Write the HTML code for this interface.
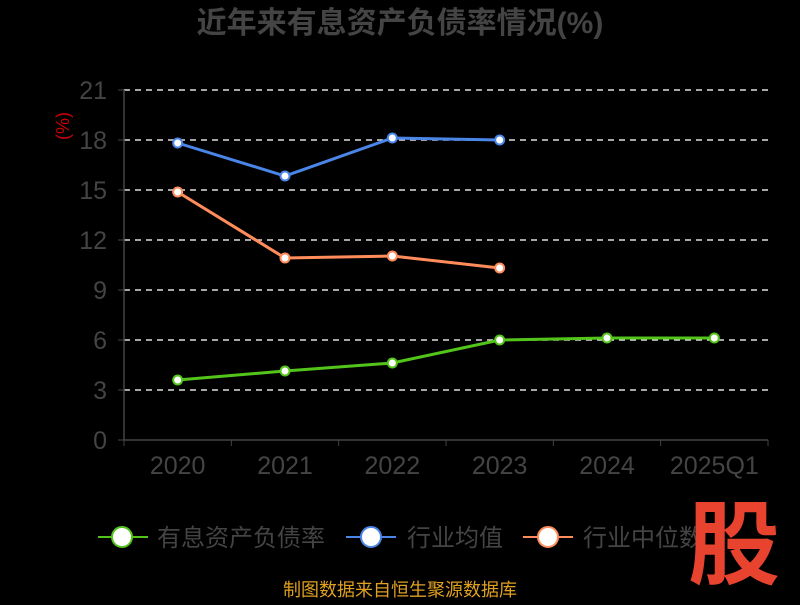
<!DOCTYPE html>
<html><head><meta charset="utf-8"><style>
body{margin:0;background:#000;width:800px;height:600px;overflow:hidden;font-family:"Liberation Sans","Noto Sans CJK SC",sans-serif}
</style></head><body>
<svg id="c" width="800" height="600" xmlns="http://www.w3.org/2000/svg">
<text x="400" y="33" text-anchor="middle" font-size="30" font-weight="bold" fill="#444" font-family="Liberation Sans,Noto Sans CJK SC,sans-serif">近年来有息资产负债率情况(%)</text>
<text x="0" y="0" transform="translate(69,126) rotate(-90)" text-anchor="middle" font-size="18" fill="#c00" font-family="Liberation Sans,sans-serif">(%)</text>
<g id="grid"></g><g id="series"></g>
<g>
<g><line x1="98" y1="537" x2="148" y2="537" stroke="#52c41a" stroke-width="2"/><circle cx="122" cy="537" r="10" fill="#fff" stroke="#52c41a" stroke-width="2"/><text x="157" y="546" font-size="24" fill="#444" font-family="Liberation Sans,Noto Sans CJK SC,sans-serif">有息资产负债率</text></g>
<g><line x1="346" y1="537" x2="396" y2="537" stroke="#4a86e8" stroke-width="2"/><circle cx="371" cy="537" r="10" fill="#fff" stroke="#4a86e8" stroke-width="2"/><text x="407" y="546" font-size="24" fill="#444" font-family="Liberation Sans,Noto Sans CJK SC,sans-serif">行业均值</text></g>
<g><line x1="523" y1="537" x2="573" y2="537" stroke="#ff8c5a" stroke-width="2"/><circle cx="548" cy="537" r="10" fill="#fff" stroke="#ff8c5a" stroke-width="2"/><text x="583" y="546" font-size="24" fill="#444" font-family="Liberation Sans,Noto Sans CJK SC,sans-serif">行业中位数</text></g>
</g>
<text x="734" y="577" text-anchor="middle" font-size="92" font-weight="bold" fill="#e8432f" font-family="Noto Sans CJK SC,sans-serif">股</text>
<text x="400" y="596" text-anchor="middle" font-size="18" fill="#e0a020" font-family="Liberation Sans,Noto Sans CJK SC,sans-serif">制图数据来自恒生聚源数据库</text>
</svg>
<script>
const categories=["2020","2021","2022","2023","2024","2025Q1"];
const debtRatio=[3.6,4.14,4.62,6.0,6.12,6.12];
const industryMean=[17.82,15.84,18.12,18.0,null,null];
const industryMedian=[14.88,10.92,11.04,10.32,null,null];
const yTicks=[0,3,6,9,12,15,18,21];
const NS="http://www.w3.org/2000/svg";
const x0=124,x1=768,y0=440,y1=90;
const band=(x1-x0)/categories.length;
const xs=i=>x0+band*(i+0.5);
const ys=v=>y0-(v/21)*(y0-y1);
function mk(tag,attrs,parent){const e=document.createElementNS(NS,tag);for(const k in attrs)e.setAttribute(k,attrs[k]);parent.appendChild(e);return e;}
const g=document.getElementById('grid');
yTicks.forEach(t=>{const y=ys(t);
 if(t>0){const l=mk('line',{x1:x0,y1:y,x2:x1,y2:y,stroke:'#ddd','stroke-width':1.5,'stroke-dasharray':'6,5'},g);
 
 }
 const tk=mk('line',{x1:x0-6,y1:y,x2:x0,y2:y,stroke:'#444'},g);
 
 
 const tx=mk('text',{x:x0-17,y:y+9,'text-anchor':'end','font-size':25,fill:'#444','font-family':'Liberation Sans,sans-serif'},g);
 tx.textContent=t;
 
 });
const ya=mk('line',{x1:x0,y1:y1,x2:x0,y2:y0,stroke:'#444','stroke-width':1.5},g);


const xa=mk('line',{x1:x0,y1:y0,x2:x1,y2:y0,stroke:'#444','stroke-width':1.5},g);


for(let i=0;i<=categories.length;i++){const t=mk('line',{x1:x0+band*i,y1:y0,x2:x0+band*i,y2:y0+6,stroke:'#444'},g);
 
 }
categories.forEach((c,i)=>{const t=mk('text',{x:xs(i),y:y0+34,'text-anchor':'middle','font-size':25,fill:'#444','font-family':'Liberation Sans,sans-serif'},g);
 t.textContent=c;
 
 });
const s=document.getElementById('series');
function drawSeries(data,color,name){
 const pts=[];data.forEach((v,i)=>{if(v!=null)pts.push([xs(i),ys(v)]);});
 const pl=mk('polyline',{points:pts.map(p=>p.join(',')).join(' '),fill:'none',stroke:color,'stroke-width':3},s);
 
 
 pts.forEach(p=>{const c=mk('circle',{cx:p[0],cy:p[1],r:4.5,fill:'#fff',stroke:color,'stroke-width':2},s);
 
 });
}
drawSeries(industryMean,'#4a86e8','industry-mean');
drawSeries(industryMedian,'#ff8c5a','industry-median');
drawSeries(debtRatio,'#52c41a','debt-ratio');
</script>
</body></html>
